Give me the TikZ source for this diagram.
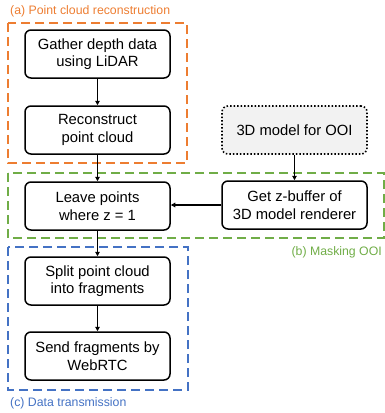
\documentclass[tikz,border=0pt]{standalone}
\usepackage{fontspec}
\setmainfont{Liberation Sans}
\usetikzlibrary{arrows.meta, positioning}

\definecolor{grporange}{RGB}{237,125,49}
\definecolor{grpgreen}{RGB}{112,173,71}
\definecolor{grpblue}{RGB}{68,114,196}
\definecolor{modelgray}{RGB}{242,242,242}

\tikzset{
    stagebox/.style={draw, line width=1.5pt, rounded corners=6pt, align=center,
        minimum width=145pt, minimum height=48pt, inner sep=0pt,
        font=\fontsize{14.8}{17.5}\selectfont},
    groupbox/.style={line width=1.4pt, dash pattern=on 9pt off 5pt},
    grouplabel/.style={inner sep=0pt, font=\fontsize{12.3}{14}\selectfont},
    flow/.style={-{Triangle[length=4.5pt,width=4.5pt]}, line width=1.1pt}
}

\begin{document}
\begin{tikzpicture}[x=1pt,y=1pt]
    \useasboundingbox (0,0) rectangle (385,-413);
    % groups
    \draw[groupbox, grporange] (8,-23) rectangle (187,-163);
    \draw[groupbox, grpgreen] (8,-173) rectangle (384,-238);
    \draw[groupbox, grpblue] (8,-247) rectangle (188,-390);
    \node[grouplabel, grporange, anchor=west] (lbla) at (10,-11) {(a) Point cloud reconstruction};
    \node[grouplabel, grpgreen, anchor=east] (lblb) at (382,-252) {(b) Masking OOI};
    \node[grouplabel, grpblue, anchor=west] (lblc) at (10,-403) {(c) Data transmission};
    % stages
    \node[stagebox] (gather) at (97.5,-54) {Gather depth data\\using LiDAR};
    \node[stagebox] (recon) at (97.5,-130) {Reconstruct\\point cloud};
    \node[stagebox] (leave) at (97.5,-206) {Leave points\\where z = 1};
    \node[stagebox] (split) at (97.5,-281) {Split point cloud\\into fragments};
    \node[stagebox] (send) at (97.5,-356) {Send fragments by\\WebRTC};
    \node[stagebox, dotted, line width=1.6pt, fill=modelgray] (model) at (294.5,-130) {3D model for OOI};
    \node[stagebox] (zbuf) at (294.5,-205) {Get z-buffer of\\3D model renderer};
    % arrows
    \draw[flow] (gather) -- (recon);
    \draw[flow] (recon) -- (leave);
    \draw[flow] (leave) -- (split);
    \draw[flow] (split) -- (send);
    \draw[flow] (model) -- (zbuf);
    \draw[flow] (zbuf.west) -- (zbuf.west -| leave.east);
\end{tikzpicture}
\end{document}
